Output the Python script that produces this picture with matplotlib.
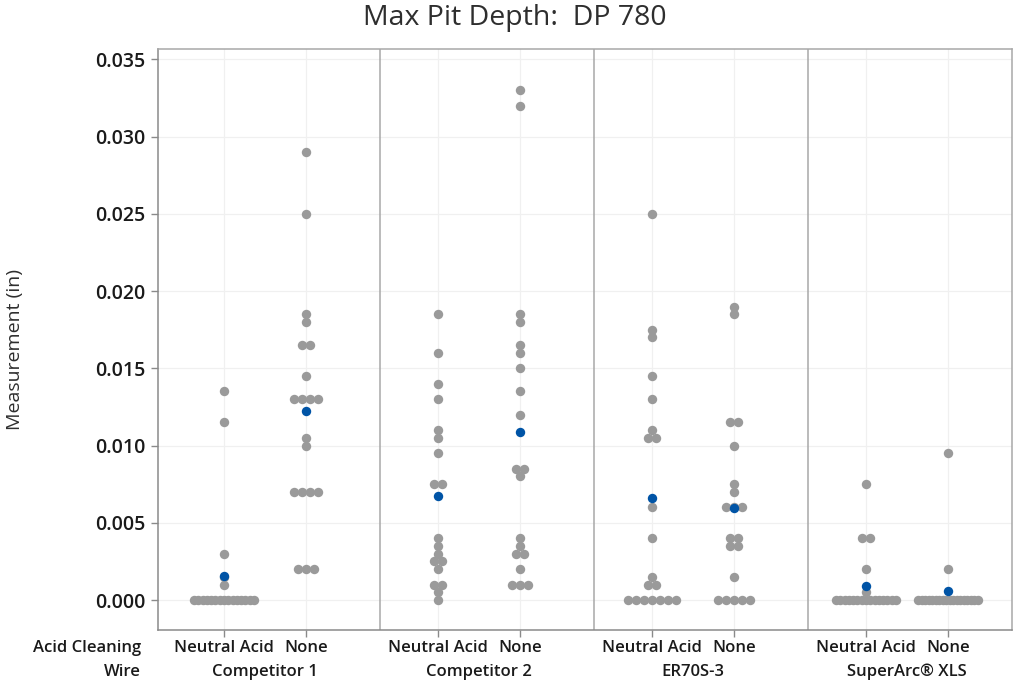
import numpy as np
import matplotlib.pyplot as plt

# categories
wires = ['Competitor 1', 'Competitor 2', 'ER70S-3', 'SuperArc® XLS']
cleanings = ['Neutral Acid', 'None']

c1_neutral = [0.0135, 0.0115, 0.003, 0.0015, 0.001,
              0, 0, 0, 0, 0, 0, 0, 0, 0, 0, 0, 0, 0, 0, 0]
c1_none = [0.029, 0.025, 0.0185, 0.018, 0.0165, 0.0165, 0.0145,
           0.013, 0.013, 0.013, 0.013, 0.0105, 0.010,
           0.007, 0.007, 0.007, 0.007, 0.002, 0.002, 0.002]
c2_neutral = [0.0185, 0.016, 0.014, 0.013, 0.011, 0.0105, 0.0095,
              0.0075, 0.0075, 0.004, 0.0035, 0.003, 0.0025, 0.0025,
              0.002, 0.001, 0.001, 0.0005, 0]
c2_none = [0.033, 0.032, 0.0185, 0.018, 0.0165, 0.016, 0.015, 0.0135,
           0.012, 0.0085, 0.0085, 0.008, 0.004, 0.0035, 0.003, 0.003,
           0.002, 0.001, 0.001, 0.001]
er_neutral = [0.025, 0.0175, 0.017, 0.0145, 0.013, 0.011, 0.0105, 0.0105,
              0.006, 0.004, 0.0015, 0.001, 0.001,
              0, 0, 0, 0, 0, 0, 0]
er_none = [0.019, 0.0185, 0.0115, 0.0115, 0.010, 0.0075, 0.007,
           0.006, 0.006, 0.006, 0.004, 0.004, 0.0035, 0.0035, 0.0015,
           0, 0, 0, 0, 0]
sa_neutral = [0.0075, 0.004, 0.004, 0.002, 0.0005,
              0, 0, 0, 0, 0, 0, 0, 0, 0, 0, 0, 0, 0, 0, 0]
sa_none = [0.0095, 0.002,
           0, 0, 0, 0, 0, 0, 0, 0, 0, 0, 0, 0, 0, 0, 0, 0, 0, 0]

groups = [[c1_neutral, c1_none], [c2_neutral, c2_none],
          [er_neutral, er_none], [sa_neutral, sa_none]]

yticks = [0.0, 0.005, 0.010, 0.015, 0.020, 0.025, 0.030, 0.035]

GRAY = '#9a9a9a'
BLUE = '#0054a6'
FONT = 'Open Sans'
plt.rcParams['font.family'] = [FONT, 'DejaVu Sans']

group_step = 2.61
step = 0.096      # horizontal spacing of tied points
max_span = 0.73   # widest a row of ties may get
dot = 46

fig = plt.figure(figsize=(10.14, 6.83), dpi=100)
ax = fig.add_axes([157.5 / 1014, 53 / 683, 855 / 1014, 581 / 683])

xpos = []
for g, pair in enumerate(groups):
    for j, vals in enumerate(pair):
        x0 = g * group_step + j
        xpos.append(x0)
        vals = np.array(vals, dtype=float)
        xs, ys = [], []
        for v in np.unique(vals):
            k = int(np.sum(vals == v))
            d = step if k < 2 else min(step, max_span / (k - 1))
            for i in range(k):
                xs.append(x0 + (i - (k - 1) / 2) * d)
                ys.append(v)
        ax.scatter(xs, ys, s=dot, color=GRAY, linewidths=0, zorder=3)
        ax.scatter([x0], [vals.mean()], s=dot, color=BLUE, linewidths=0, zorder=4)

# panel dividers
for g in range(len(wires) - 1):
    ax.axvline(g * group_step + 1.9, color='#a8a8a8', lw=1.1, zorder=2)

ax.set_xlim(-0.811, 9.616)
ax.set_ylim(-0.00194, 0.03567)
ax.set_yticks(yticks)
ax.set_yticklabels(['%.3f' % t for t in yticks])
ax.set_xticks(xpos)
ax.set_xticklabels([])
ax.grid(True, color='#f0f0f0', lw=0.9, zorder=0)
ax.set_axisbelow(True)

for side in ['left', 'bottom']:
    ax.spines[side].set_color('#8a8a8a')
for side in ['top', 'right']:
    ax.spines[side].set_color('#a8a8a8')
for sp in ax.spines.values():
    sp.set_linewidth(1.1)
ax.tick_params(axis='both', color='#8a8a8a', length=5, width=1)
ax.tick_params(axis='y', labelsize=14, labelcolor='#1a1a1a', pad=4)
for lab in ax.get_yticklabels():
    lab.set_fontweight('semibold')

# x labels: cleaning row and wire row
tr = ax.get_xaxis_transform()
for g, w in enumerate(wires):
    for j, c in enumerate(cleanings):
        ax.text(g * group_step + j, -0.031, c, transform=tr, ha='center', va='center',
                fontsize=12, fontweight='semibold', color='#1a1a1a')
    ax.text(g * group_step + 0.5, -0.0723, w, transform=tr, ha='center', va='center',
            fontsize=12, fontweight='semibold', color='#1a1a1a')

fig.text(141 / 1014, 1 - 648 / 683, 'Acid Cleaning', ha='right', va='center',
         fontsize=12, fontweight='semibold', color='#1a1a1a')
fig.text(141 / 1014, 1 - 672 / 683, 'Wire', ha='right', va='center',
         fontsize=12, fontweight='semibold', color='#1a1a1a')

fig.text(15 / 1014, 1 - 350 / 683, 'Measurement (in)', rotation=90, ha='center',
         va='center', fontsize=14, color='#2e2e2e')
fig.text(515 / 1014, 1 - 18 / 683, 'Max Pit Depth:  DP 780', ha='center', va='center',
         fontsize=20.5, color='#2e2e2e')

fig.savefig('out.png', dpi=100)
